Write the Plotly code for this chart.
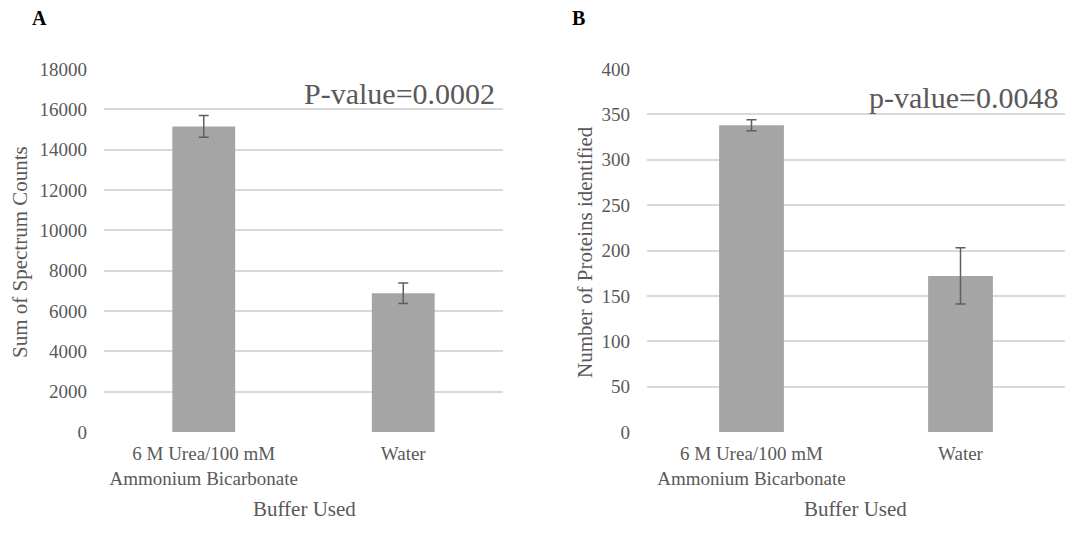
import plotly.graph_objects as go

categories = ["6 M Urea/100 mM<br>Ammonium Bicarbonate", "Water"]
spectrum_counts = [15150, 6880]
spectrum_err = [540, 510]
proteins = [338, 172]
proteins_err = [6, 31]

W, H = 1091, 533
FONT = "Liberation Serif, Times New Roman, serif"
GRAY_TXT = "#595959"
BAR = "#a5a5a5"
GRID = "#d9d9d9"
ERR = "#5f5f5f"


def px_x(x):
    return x / W


def px_y(y):
    return 1 - y / H


fig = go.Figure()
fig.add_trace(go.Bar(
    x=categories, y=spectrum_counts, marker_color=BAR, marker_line_width=0,
    error_y=dict(type="data", array=spectrum_err, color=ERR, thickness=1.5, width=5),
    xaxis="x", yaxis="y", width=0.315, showlegend=False,
))
fig.add_trace(go.Bar(
    x=categories, y=proteins, marker_color=BAR, marker_line_width=0,
    error_y=dict(type="data", array=proteins_err, color=ERR, thickness=1.5, width=5),
    xaxis="x2", yaxis="y2", width=0.31, showlegend=False,
))

tick_font = dict(family=FONT, size=19, color=GRAY_TXT)
ydom = [px_y(432), px_y(69)]
common_x = dict(showgrid=False, zeroline=False, showline=False, ticks="",
                tickfont=tick_font, ticklabelstandoff=8, automargin=False)
common_y = dict(showgrid=True, gridcolor=GRID, gridwidth=1.5, zeroline=False,
                showline=False, ticks="", tickfont=tick_font, tickformat="d",
                ticklabelstandoff=16, domain=ydom, automargin=False)

fig.update_layout(
    template="none",
    width=W, height=H,
    margin=dict(l=0, r=0, t=0, b=0, pad=0, autoexpand=False),
    paper_bgcolor="white", plot_bgcolor="white",
    font=dict(family=FONT, color=GRAY_TXT),
    xaxis=dict(domain=[px_x(104), px_x(503)], anchor="y", **common_x),
    yaxis=dict(range=[0, 18000], dtick=2000, anchor="x", **common_y),
    xaxis2=dict(domain=[px_x(647), px_x(1065)], anchor="y2", **common_x),
    yaxis2=dict(range=[0, 400], dtick=50, anchor="x2", **common_y),
)

ann = []


def add_text(text, x, y, size, color=GRAY_TXT, xanchor="center", angle=0):
    ann.append(dict(text=text, x=px_x(x), y=px_y(y), xref="paper", yref="paper",
                    xanchor=xanchor, yanchor="middle", showarrow=False, borderpad=0,
                    textangle=angle, font=dict(family=FONT, size=size, color=color)))


# Panel labels
add_text("<b>A</b>", 39, 18, 20, color="black")
add_text("<b>B</b>", 578, 18, 20, color="black")
# p-values
add_text("P-value=0.0002", 496, 94, 30, xanchor="right")
add_text("p-value=0.0048", 1059, 98, 30, xanchor="right")
# axis titles
add_text("Sum of Spectrum Counts", 20, 252, 21, angle=-90)
add_text("Number of Proteins identified", 585, 252, 21, angle=-90)
add_text("Buffer Used", 304, 509, 21)
add_text("Buffer Used", 855, 509, 21)

fig.update_layout(annotations=ann)
fig.write_html("out.html")
